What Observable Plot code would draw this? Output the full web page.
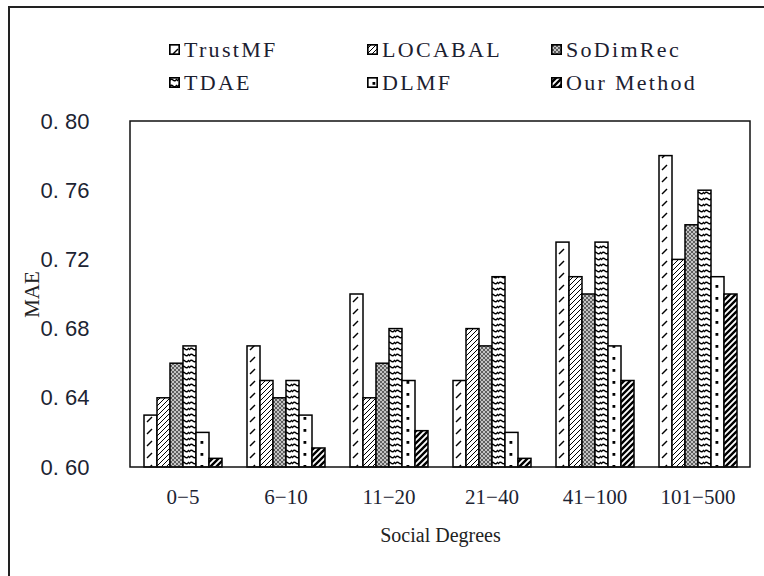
<!DOCTYPE html>
<html><head><meta charset="utf-8">
<script src="https://cdn.jsdelivr.net/npm/d3@7"></script>
<script src="https://cdn.jsdelivr.net/npm/@observablehq/plot@0.6"></script>
<style>
body{margin:0;background:#fff;}
#wrap{position:relative;width:764px;height:576px;overflow:hidden;background:#fff;}
#border{position:absolute;left:8px;top:6px;width:800px;height:620px;border-left:2px solid #222;border-top:2px solid #222;}
#legend{position:absolute;left:169px;top:33px;display:grid;grid-template-columns:198px 184px auto;}
.item{display:flex;align-items:center;height:33px;font-family:"Liberation Serif",serif;font-size:22px;letter-spacing:2.3px;color:#1c2030;}
.item svg{margin-right:4px;}
#chart{position:absolute;left:0;top:100px;}
</style></head>
<body>
<svg width="0" height="0" style="position:absolute">
<defs>
<pattern id="pat0" patternUnits="userSpaceOnUse" width="13" height="12"><rect width="13" height="12" fill="#fff"/><path d="M4,10 L9,5" stroke="#000" stroke-width="1.5"/></pattern>
<pattern id="pat1" patternUnits="userSpaceOnUse" width="5" height="5"><rect width="5" height="5" fill="#fff"/><path d="M0,5 L5,0 M-1,1 L1,-1 M4,6 L6,4" stroke="#000" stroke-width="1"/></pattern>
<pattern id="pat2" patternUnits="userSpaceOnUse" width="4" height="4"><rect width="4" height="4" fill="#c4c4c4"/><path d="M0,0 L4,4 M4,0 L0,4" stroke="#333" stroke-width="0.7"/></pattern>
<pattern id="pat3" patternUnits="userSpaceOnUse" width="8" height="6"><rect width="8" height="6" fill="#fff"/><path d="M0,4 Q2,1 4,3 T8,2" stroke="#000" stroke-width="1.4" fill="none"/></pattern>
<pattern id="pat4" patternUnits="userSpaceOnUse" width="13" height="12"><rect width="13" height="12" fill="#fff"/><rect x="5.5" y="5" width="2.8" height="2.8" fill="#000"/></pattern>
<pattern id="pat5" patternUnits="userSpaceOnUse" width="6" height="6"><rect width="6" height="6" fill="#fff"/><path d="M0,6 L6,0 M-1,1 L1,-1 M5,7 L7,5" stroke="#000" stroke-width="2.4"/></pattern>
</defs>
</svg>
<div id="wrap">
  <div id="border"></div>
  <div id="legend"></div>
  <div id="chart"></div>
</div>
<script>
const groups = ["0\u22125", "6\u221210", "11\u221220", "21\u221240", "41\u2212100", "101\u2212500"];
const series = ["TrustMF", "LOCABAL", "SoDimRec", "TDAE", "DLMF", "Our Method"];
const legendOrder = ["TrustMF", "LOCABAL", "SoDimRec", "TDAE", "DLMF", "Our Method"];
const trustMF   = [0.630, 0.670, 0.700, 0.650, 0.730, 0.780];
const locabal   = [0.640, 0.650, 0.640, 0.680, 0.710, 0.720];
const soDimRec  = [0.660, 0.640, 0.660, 0.670, 0.700, 0.740];
const tdae      = [0.670, 0.650, 0.680, 0.710, 0.730, 0.760];
const dlmf      = [0.620, 0.630, 0.650, 0.620, 0.670, 0.710];
const ourMethod = [0.605, 0.611, 0.621, 0.605, 0.650, 0.700];
const yTicks = [0.60, 0.64, 0.68, 0.72, 0.76, 0.80];
const baseline = 0.60;
const patterns = series.map((s, i) => `url(#pat${i})`);

const valuesBySeries = [trustMF, locabal, soDimRec, tdae, dlmf, ourMethod];
const rows = [];
series.forEach((s, i) => groups.forEach((g, j) => rows.push({group: g, series: s, value: valuesBySeries[i][j]})));

// legend
const legend = document.getElementById("legend");
legendOrder.forEach(s => {
  const i = series.indexOf(s);
  const div = document.createElement("div");
  div.className = "item";
  div.innerHTML = `<svg width="11" height="11"><rect x="0.75" y="0.75" width="9.5" height="9.5" fill="${patterns[i]}" stroke="#000" stroke-width="1.8"/></svg><span>${s}</span>`;
  legend.appendChild(div);
});

const plot = Plot.plot({
  width: 764,
  height: 476,
  marginTop: 21,
  marginBottom: 109,
  marginLeft: 130,
  marginRight: 14,
  fx: {domain: groups, paddingInner: 0.235, paddingOuter: 0.106, label: "Social Degrees", labelAnchor: "center", labelOffset: 74, tickSize: 0, tickPadding: 22},
  x: {domain: series, padding: 0, axis: null},
  y: {domain: [0.60, 0.80], ticks: yTicks, tickFormat: d => d3.format(".2f")(d).replace(".", ". "), tickSize: 0, tickPadding: 54, label: "MAE", labelAnchor: "center", labelOffset: 119},
  color: {domain: series, range: patterns},
  marks: [
    Plot.barY(rows, {fx: "group", x: "series", y1: baseline, y2: "value", fill: "series", stroke: "#000", strokeWidth: 1.5})
  ]
});
document.getElementById("chart").appendChild(plot);

const svg = d3.select(plot);
const ys = plot.scale("y");
const fxs = plot.scale("fx");
const [yb, yt] = ys.range;
const [xl, xr] = fxs.range;
svg.append("rect").attr("x", xl).attr("y", yt).attr("width", xr - xl).attr("height", yb - yt)
  .attr("fill", "none").attr("stroke", "#111").attr("stroke-width", 1.5);

svg.selectAll('[aria-label="y-axis tick label"], [aria-label="y-axis"] g.tick')
  .attr("font-family", "Liberation Sans, Arial, sans-serif").attr("font-size", 22).attr("fill", "#1c2433");
svg.selectAll('[aria-label="y-axis label"]').attr("font-family", "Liberation Serif, serif").attr("font-size", 21).attr("fill", "#222");
svg.selectAll('[aria-label="y-axis label"] text').text("MAE");
svg.selectAll('[aria-label="fx-axis tick label"], [aria-label="fx-axis"] g.tick')
  .attr("font-family", "Liberation Serif, serif").attr("font-size", 21).attr("fill", "#1c2433");
svg.selectAll('[aria-label="fx-axis label"]').attr("font-family", "Liberation Serif, serif").attr("font-size", 20).attr("fill", "#222");
</script>
</body></html>
